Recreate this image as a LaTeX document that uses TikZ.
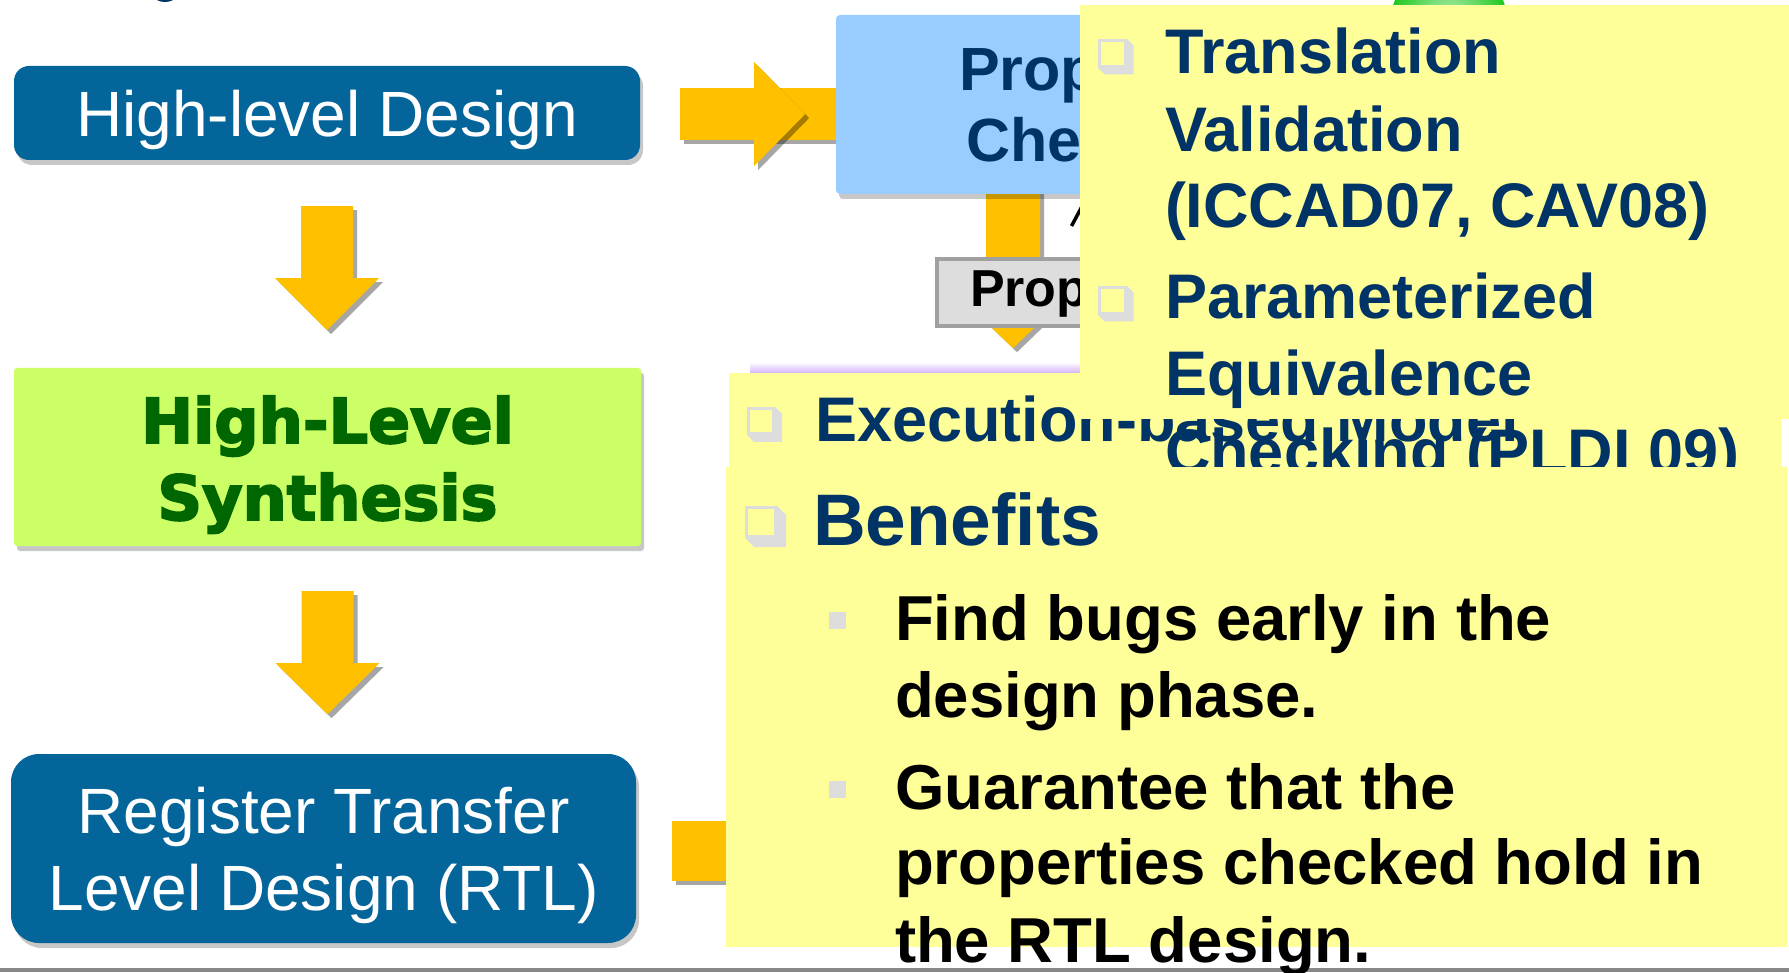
\documentclass[tikz,border=0pt]{standalone}
\usepackage{fontspec}
\setmainfont{Liberation Sans}
\newfontfamily\heavyfont[BoldFeatures={FakeBold=3}]{DejaVu Sans}
\usetikzlibrary{calc,shadows}
\pgfdeclarelayer{bg}
\pgfsetlayers{bg,main}
\definecolor{boxblue}{RGB}{3,101,154}
\definecolor{hlsgreen}{RGB}{204,255,102}
\definecolor{hlsdark}{RGB}{0,102,0}
\definecolor{arrowyellow}{RGB}{255,192,0}
\definecolor{propblue}{RGB}{153,204,255}
\definecolor{noteyellow}{RGB}{255,255,153}
\definecolor{navy}{RGB}{0,51,102}
\definecolor{bulletgray}{RGB}{221,221,221}
\definecolor{propgray}{RGB}{221,221,221}
\definecolor{propborder}{RGB}{160,160,160}
\definecolor{lavender}{RGB}{214,180,250}
\definecolor{rulegray}{RGB}{136,136,136}
\definecolor{ballgreen}{RGB}{30,200,30}
\newcommand\qbullet[4]{%
  \fill[bulletgray] (#1,#2+#3) -- (#1+#4,#2+#3+#4) -- (#1+#3+#4,#2+#3+#4) -- (#1+#3+#4,#2+#4) -- (#1+#3,#2) -- (#1+#3,#2+#3) -- cycle;
  \draw[bulletgray, line width=3pt] (#1+1.5,#2+1.5) rectangle (#1+#3-1.5,#2+#3-1.5);
}
\tikzset{
  lbl/.style={inner sep=0pt, outer sep=0pt},
  softshadow/.style={drop shadow={shadow xshift=3pt, shadow yshift=-5pt, opacity=0.22, fill=black}},
  darkbox/.style={rectangle, inner sep=0pt, fill=boxblue, rounded corners=15pt, softshadow},
  greenbox/.style={rectangle, inner sep=0pt, fill=hlsgreen, rounded corners=3pt, softshadow},
  propbox/.style={rectangle, inner sep=0pt, fill=propblue, rounded corners=4pt, softshadow},
  cexbox/.style={rectangle, inner sep=0pt, fill=propgray, draw=propborder, line width=4.5pt},
  notebox/.style={rectangle, inner sep=0pt, fill=noteyellow, draw=none},
  whitetext/.style={lbl, anchor=base, text=white, font=\fontsize{64}{77}\selectfont},
  hlstext/.style={lbl, anchor=base, text=hlsdark, font=\heavyfont\bfseries\fontsize{62}{77}\selectfont},
  navytext/.style={lbl, anchor=base west, text=navy, font=\bfseries\fontsize{63}{77}\selectfont},
  bigtext/.style={lbl, anchor=base west, text=navy, font=\bfseries\fontsize{73}{80}\selectfont},
  blacktext/.style={lbl, anchor=base west, text=black, font=\bfseries\fontsize{63.5}{77}\selectfont},
  proptext/.style={lbl, anchor=base west, text=navy, font=\bfseries\fontsize{61}{70}\selectfont},
  cextext/.style={lbl, anchor=base west, text=black, font=\bfseries\fontsize{52}{60}\selectfont},
  arrowfill/.style={fill=arrowyellow, drop shadow={shadow xshift=4pt, shadow yshift=-4pt, opacity=0.35, fill=black}},
  pics/downarrow/.style n args={3}{code={%
    \fill[arrowfill] (-#1,0) -- (#1,0) -- (#1,#2) -- ({2*#1},#2) -- (0,#3) -- ({-2*#1},#2) -- (-#1,#2) -- cycle;}},
}
\begin{document}
\begin{tikzpicture}[x=1pt,y=-1pt]
\useasboundingbox (0,0) rectangle (1789,973);
\begin{pgfonlayer}{bg}
  \fill[white] (0,0) rectangle (1789,973);
\end{pgfonlayer}

% bottom rule
\fill[rulegray] (0,968) rectangle (1789,972);
% fragments at the top edge
\fill[navy] (165,-3) ellipse (10pt and 5pt);
\shade[inner color=ballgreen!30!white, outer color=ballgreen] (1449,21) circle (58pt);

% left column
\node[darkbox, minimum width=626pt, minimum height=94pt] (hld) at (327,113) {};
\node[whitetext] (hldlbl) at (327,137) {High-level Design};
\node[greenbox, minimum width=627pt, minimum height=178pt] (hls) at (327.5,457) {};
\node[hlstext] (hls1) at (327.5,443) {High-Level};
\node[hlstext] (hls2) at (327.5,520) {Synthesis};
\node[darkbox, rounded corners=28pt, minimum width=625pt, minimum height=189pt] (rtl) at (323.5,848.5) {};
\node[whitetext] (rtl1) at (323.5,833) {Register Transfer};
\node[whitetext] (rtl2) at (323.5,910) {Level Design (RTL)};

% property checking
\node[propbox, minimum width=354pt, minimum height=179pt] (prop) at (1013,104.5) {};
\node[proptext] (prop1) at (959,91) {Prop};
\node[proptext] (prop2) at (966,162) {Che};
\node[cexbox, minimum width=152pt, minimum height=67pt] (cex) at (1013,292.5) {};
\node[cextext] (cexlbl) at (970,307) {Prop};
\draw[black, line width=3.5pt] (1071.5,226) -- (1086,199);
\shade[top color=white, bottom color=lavender] (750,362) rectangle (1080,373);

% arrows (behind the boxes)
\begin{pgfonlayer}{bg}
  \pic at ($(hld.south)+(0,46)$) {downarrow={26}{72}{124}};
  \pic at ($(hls.south)+(0,45)$) {downarrow={26}{72}{123}};
  \pic at ($(prop.south)+(0,-30)$) {downarrow={27}{132}{184}};
  \coordinate (ra) at ($(hld.east)+(40,1)$);
  \fill[arrowfill] ($(ra)+(0,-26)$) rectangle ($(ra)+(170,26)$);
  \fill[arrowfill] ($(ra)+(74,-52)$) -- ($(ra)+(125,0)$) -- ($(ra)+(74,52)$) -- cycle;
  \fill[arrowfill] ($(rtl.east)+(36,-28)$) rectangle ($(rtl.east)+(130,32)$);
\end{pgfonlayer}

% middle note
\node[notebox, minimum width=1052pt, minimum height=147pt] (midnote) at (1255,446.5) {};
\qbullet{747}{407}{28}{7}
\node[navytext] (exec) at (815,442) {Execution-based Model};

% upper note
\node[notebox, minimum width=712pt, minimum height=414pt] (topnote) at (1436,212) {};
\qbullet{1098}{39}{29}{6.5}
\node[navytext] (tv1) at (1165,74) {Translation};
\node[navytext] (tv2) at (1165,152) {Validation};
\node[navytext] (tv3) at (1165,228) {(ICCAD07, CAV08)};
\qbullet{1098}{286}{29}{6.5}
\node[navytext] (pe1) at (1165,319) {Parameterized};
\node[navytext] (pe2) at (1165,396) {Equivalence};
\node[navytext] (pe3) at (1165,473) {Checking (PLDI 09)};

% benefits note
\node[notebox, minimum width=1061pt, minimum height=480pt] (bennote) at (1256.5,707) {};
\qbullet{745}{506}{32}{9}
\node[bigtext] (ben) at (813,545) {Benefits};
\fill[bulletgray] (829,612) rectangle (846,629);
\node[blacktext] (b1a) at (895,640) {Find bugs early in the};
\node[blacktext] (b1b) at (895,717) {design phase.};
\fill[bulletgray] (829,781) rectangle (846,798);
\node[blacktext] (b2a) at (895,809) {Guarantee that the};
\node[blacktext] (b2b) at (895,884) {properties checked hold in};
\node[blacktext] (b2c) at (895,962) {the RTL design.};
\end{tikzpicture}
\end{document}
